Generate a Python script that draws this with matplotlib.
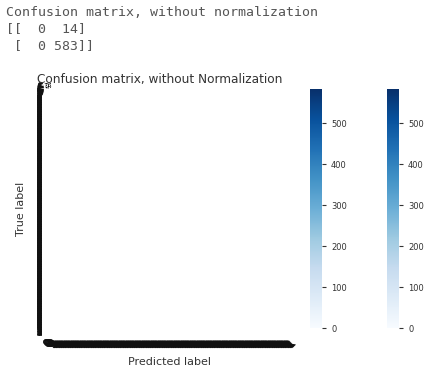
import numpy as np
import matplotlib
matplotlib.use("Agg")
import matplotlib.pyplot as plt

# ---- data ----
cm = np.array([[0, 14],
               [0, 583]])
class_names = ['0', '1']
# the class list passed to the plot was the whole label vector (one entry per sample)
row_totals = cm.sum(axis=1)
tick_labels = np.repeat(class_names, row_totals)
cbar_ticks = [0, 100, 200, 300, 400, 500]

printed = ["Confusion matrix, without normalization",
           "[[  0  14]",
           " [  0 583]]"]

W, H = 430, 371
fig = plt.figure(figsize=(W / 100, H / 100), dpi=100)

# printed console output above the figure
for k, line in enumerate(printed):
    fig.text(6 / W, 1 - (12 + k * 17) / H, line, family='DejaVu Sans Mono',
             fontsize=9.5, color='#555555', va='center', ha='left')

# ---- main axes ----
ax = fig.add_axes([47 / W, (H - 332) / H, 245 / W, 246 / H])
im = ax.imshow(cm, interpolation='nearest', cmap='Blues', aspect='auto')
ax.set_title("Confusion matrix, without Normalization", fontsize=8.7,
             color='#333333', pad=1, x=0.46)

n = len(tick_labels)
ticks = np.arange(n)
ax.set_xticks(ticks)
ax.set_xticklabels(tick_labels, rotation=45, fontsize=8)
ax.set_yticks(ticks)
ax.set_yticklabels(tick_labels, fontsize=8)
ax.set_xlim(-0.5, n - 0.5)
ax.set_ylim(n - 0.5, -0.5)
ax.tick_params(length=0, colors='#111111')
ax.tick_params(axis='x', pad=4)
ax.tick_params(axis='y', pad=3)
for s in ax.spines.values():
    s.set_visible(False)

thresh = cm.max() / 2
for i in range(cm.shape[0]):
    for j in range(cm.shape[1]):
        ax.text(j, i, cm[i, j], ha='center', va='center', fontsize=5,
                color='white' if cm[i, j] > thresh else 'black')

ax.set_ylabel("True label", fontsize=8, color='#333333', labelpad=7)
ax.set_xlabel("Predicted label", fontsize=8, color='#333333', labelpad=5)

# ---- two colorbars ----
for left in (310, 387):
    cax = fig.add_axes([left / W, (H - 328) / H, 12 / W, 239 / H])
    cb = fig.colorbar(im, cax=cax, ticks=cbar_ticks)
    cb.outline.set_visible(False)
    cb.ax.tick_params(labelsize=6, length=3, width=0.8, colors='#333333')

fig.savefig("out.png", dpi=100)
